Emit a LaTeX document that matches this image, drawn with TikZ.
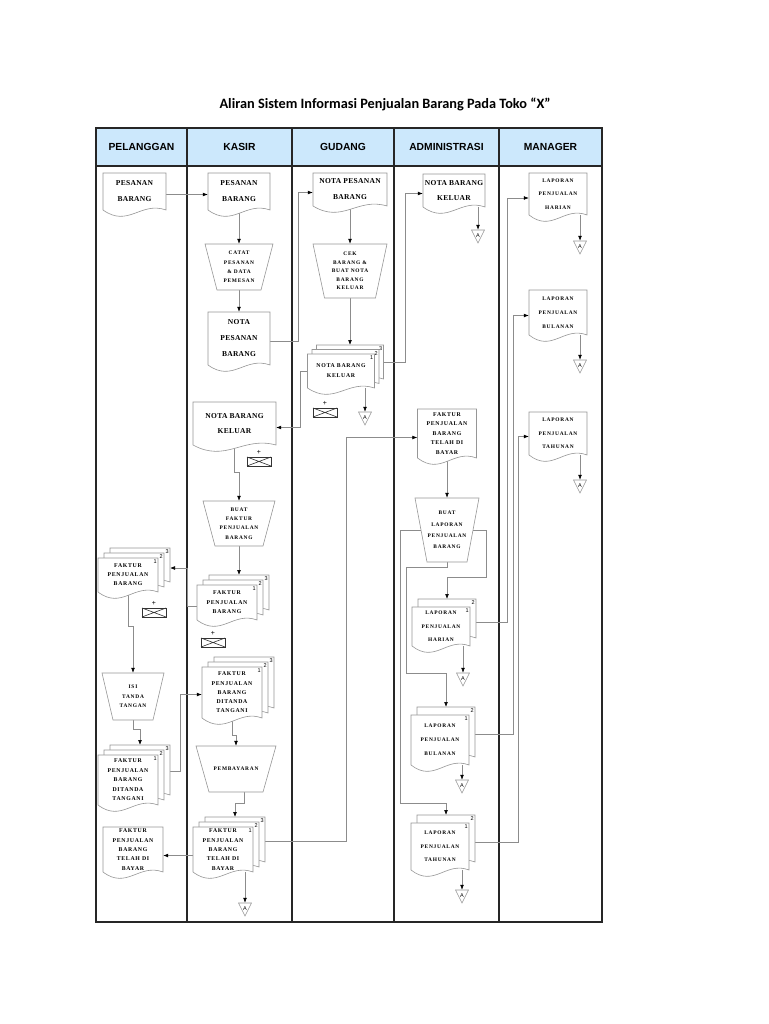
\documentclass[tikz,border=0pt]{standalone}
\usepackage{fontspec}
\setmainfont{Liberation Serif}
\newfontfamily\dfa[LetterSpace=4]{Liberation Serif}
\newfontfamily\dfb[LetterSpace=12]{Liberation Serif}
\newfontfamily\dfc[LetterSpace=14]{Liberation Serif}
\newfontfamily\hdfont{Liberation Sans}
\newfontfamily\ttlfont{Carlito}
\usetikzlibrary{arrows.meta,calc}
\pgfdeclarelayer{lanes}
\pgfdeclarelayer{bg}
\pgfsetlayers{lanes,bg,main}
\definecolor{hdrblue}{RGB}{204,232,252}
\definecolor{shpgray}{RGB}{150,150,150}
\definecolor{congray}{RGB}{140,140,140}
\tikzset{
  shp/.style={draw=shpgray,fill=white,line width=0.6pt},
  con/.style={draw=congray,line width=0.6pt},
  arr/.style={con,-{Latex[length=5pt,width=3.8pt,color=black,fill=black]}},
  lane/.style={draw=black!85,line width=1.2pt},
  archline/.style={draw=black!80,line width=0.6pt},
  txt/.style={inner sep=0pt,align=center,text=black},
  fbig/.style={font=\dfa\bfseries\fontsize{7.5}{#1}\selectfont},
  fmid/.style={font=\dfb\bfseries\fontsize{5.8}{#1}\selectfont},
  fsm/.style={font=\dfc\bfseries\fontsize{5.4}{#1}\selectfont},
  num/.style={inner sep=0pt,anchor=north east,font=\hdfont\fontsize{5.5}{6}\selectfont},
  hdr/.style={font=\hdfont\bfseries\fontsize{10.3}{11}\selectfont},
}
\def\wv{9}
\def\cdx{6}
\def\cdy{5}
% x1 y1 x2 y2 (y2 = end of straight sides)
\newcommand\xShape[4]{%
  \draw[shp] ({#1},{#4}) -- ({#1},{#2}) -- ({#3},{#2}) -- ({#3},{#4})
    .. controls ({(#3)-0.4*((#3)-(#1))},{(#4)-\wv}) and ({(#3)-0.6*((#3)-(#1))},{(#4)+2*\wv}) .. ({#1},{#4}) -- cycle;}
% [opts]{name}{x1}{y1}{x2}{y2}{text}
\newcommand\xDoc[7][]{%
  \xShape{#3}{#4}{#5}{#6}
  \node[txt,minimum width={(#5)-(#3)},minimum height={(#6)-(#4)},#1] (#2) at ({((#3)+(#5))/2},{((#4)+(#6))/2}) {#7};}
% [opts]{n}{name}{x1}{y1}{x2}{y2}{text}
\newcommand\xMDoc[8][]{%
  \foreach \k in {#2,...,2}{%
    \xShape{(#4)+\cdx*(\k-1)}{(#5)-\cdy*(\k-1)}{(#6)+\cdx*(\k-1)}{(#7)-\cdy*(\k-1)}
    \node[num] (#3-n\k) at ({(#6)+\cdx*(\k-1)-1},{(#5)-\cdy*(\k-1)+1.5}) {\k};
  }
  \xDoc[#1]{#3}{#4}{#5}{#6}{#7}{#8}
  \node[num] (#3-n1) at ({(#6)-1},{(#5)+1.5}) {1};
  \coordinate (#3-t) at ({((#4)+(#6))/2+\cdx*(#2-1)},{(#5)-\cdy*(#2-1)});
  \coordinate (#3-r) at ({(#6)+\cdx*(#2-1)},{((#5)+(#7))/2-\cdy*(#2-1)});}
% [opts]{name}{xc}{ytop}{ybot}{topw}{botw}{text}
\newcommand\xTrap[8][]{%
  \draw[shp] ({(#3)-(#6)/2},{#4}) -- ({(#3)+(#6)/2},{#4}) -- ({(#3)+(#7)/2},{#5}) -- ({(#3)-(#7)/2},{#5}) -- cycle;
  \node[txt,minimum width={((#6)+(#7))/2},minimum height={(#5)-(#4)},#1] (#2) at ({#3},{((#4)+(#5))/2}) {#8};}
% {name}{xc}{ytop}
\newcommand\xOff[3]{%
  \draw[shp] ({(#2)-6.5},{#3}) -- ({(#2)+6.5},{#3}) -- ({#2},{(#3)+13}) -- cycle;
  \node[txt,font=\hdfont\fontsize{5.5}{6}\selectfont,minimum width=13,minimum height=13] (#1) at ({#2},{(#3)+6.5}) {\raisebox{1.8pt}{A}};}
% {name}{xl}{yt}
\newcommand\xArch[3]{%
  \draw[archline,fill=white] ({#2},{#3}) rectangle ({(#2)+24},{(#3)+9});
  \draw[archline] ({#2},{#3}) -- ({(#2)+24},{(#3)+9}) ({#2},{(#3)+9}) -- ({(#2)+24},{#3});
  \node[txt,font=\hdfont\fontsize{7}{7}\selectfont] (#1) at ({(#2)+12},{(#3)-5}) {+};}

\begin{document}
\begin{tikzpicture}[x=1pt,y=-1pt]
\useasboundingbox (0,0) rectangle (768,1024);

\node[font=\ttlfont\bfseries\fontsize{14.3}{16}\selectfont] (title) at (385,104) {Aliran Sistem Informasi Penjualan Barang Pada Toko “X”};

\begin{pgfonlayer}{lanes}
  \fill[hdrblue] (96,128) rectangle (602,166);
  \draw[lane] (96,128) rectangle (602,922);
  \draw[lane] (96,166) -- (602,166);
  \foreach \xx in {187,292,394,499} \draw[lane] (\xx,128) -- (\xx,922);
\end{pgfonlayer}
\node[hdr] (h1) at (141.5,147) {PELANGGAN};
\node[hdr] (h2) at (239.5,147) {KASIR};
\node[hdr] (h3) at (343,147) {GUDANG};
\node[hdr] (h4) at (446.5,147) {ADMINISTRASI};
\node[hdr] (h5) at (550.5,147) {MANAGER};

% PELANGGAN
\xDoc[fbig=16]{P1}{103}{173}{166}{210}{PESANAN\\BARANG}
\xMDoc[fmid=9]{3}{P2}{98}{558}{158}{592}{FAKTUR\\PENJUALAN\\BARANG}
\xArch{PX}{142}{608}
\xTrap[fsm=9.5]{P3}{133}{673}{720}{62}{40}{ISI\\TANDA\\TANGAN}
\xMDoc[fmid=9.5]{3}{P4}{98}{755}{158}{805}{FAKTUR\\PENJUALAN\\BARANG\\DITANDA\\TANGANI}
\xDoc[fmid=9.3]{P5}{103}{827}{163}{872}{FAKTUR\\PENJUALAN\\BARANG\\TELAH DI\\BAYAR}

% KASIR
\xDoc[fbig=16]{K1}{208}{173}{270}{210}{PESANAN\\BARANG}
\xTrap[fsm=9.3]{K2}{239}{244}{290}{68}{44}{CATAT\\PESANAN\\\& DATA\\PEMESAN}
\xDoc[fbig=16]{K3}{208}{312}{270}{365}{NOTA\\PESANAN\\BARANG}
\xDoc[fbig=15]{K4}{193}{402}{276}{445}{NOTA BARANG\\KELUAR}
\xArch{KX1}{247}{457}
\xTrap[fsm=9.3]{K5}{239}{501}{546}{72}{48}{BUAT\\FAKTUR\\PENJUALAN\\BARANG}
\xMDoc[fmid=9.5]{3}{K6}{197}{585}{257}{620}{FAKTUR\\PENJUALAN\\BARANG}
\xArch{KX2}{201}{638}
\xMDoc[fmid=9.3]{3}{K7}{202}{667}{262}{718}{FAKTUR\\PENJUALAN\\BARANG\\DITANDA\\TANGANI}
\xTrap[fsm=9]{K8}{236}{746}{792}{80}{54}{PEMBAYARAN}
\xMDoc[fmid=9.3]{3}{K9}{193}{827}{253}{872}{FAKTUR\\PENJUALAN\\BARANG\\TELAH DI\\BAYAR}
\xOff{KA}{245}{903}

% GUDANG
\xDoc[fbig=16]{G1}{313}{173}{387}{206}{NOTA PESANAN\\BARANG}
\xTrap[fsm=8.5]{G2}{350}{244}{298}{74}{51}{CEK\\BARANG \&\\BUAT NOTA\\BARANG\\KELUAR}
\def\cdx{4.5}\def\cdy{4.5}
\xMDoc[fmid=10]{3}{G3}{307.5}{354}{374.5}{388}{NOTA BARANG\\KELUAR}
\xArch{GX}{313}{408}
\xOff{GA}{365}{412}

% ADMINISTRASI
\xDoc[fbig=15]{A1}{423}{174}{485}{207}{NOTA BARANG\\KELUAR}
\xOff{AA1}{478}{230}
\xDoc[fmid=9.5]{A2}{417.5}{409}{476.5}{458}{FAKTUR\\PENJUALAN\\BARANG\\TELAH DI\\BAYAR}
\xTrap[fsm=11.3]{A3}{447}{498}{562}{64}{40}{BUAT\\LAPORAN\\PENJUALAN\\BARANG}
\def\cdx{6}\def\cdy{8}
\xMDoc[fsm=13.5]{2}{A4}{412}{607}{470}{646}{LAPORAN\\PENJUALAN\\HARIAN}
\xOff{AA4}{463}{673}
\xMDoc[fsm=14]{2}{A5}{411}{715}{469}{765}{LAPORAN\\PENJUALAN\\BULANAN}
\xOff{AA5}{462}{780}
\xMDoc[fsm=13.5]{2}{A6}{411}{823}{469}{870}{LAPORAN\\PENJUALAN\\TAHUNAN}
\xOff{AA6}{462}{890}

% MANAGER
\xDoc[fsm=13.5]{M1}{529}{173}{587}{215}{LAPORAN\\PENJUALAN\\HARIAN}
\xOff{MA1}{580}{241}
\xDoc[fsm=14]{M2}{529}{290}{587}{335}{LAPORAN\\PENJUALAN\\BULANAN}
\xOff{MA2}{580}{360}
\xDoc[fsm=13.5]{M3}{529}{412}{587}{455}{LAPORAN\\PENJUALAN\\TAHUNAN}
\xOff{MA3}{580}{480}

\begin{pgfonlayer}{bg}
  \draw[arr] ($(P1.east)+(0,3)$) -- ($(K1.west)+(0,3)$);
  \draw[arr] (K1.south) -- (K2.north);
  \draw[arr] (K2.south) -- (K3.north);
  \draw[arr] ($(K3.east)+(0,3)$) -- ++(28,0) |- ($(G1.west)+(0,3)$);
  \draw[arr] (G1.south) -- (G2.north);
  \draw[arr] (G2.south) -- (G3-t);
  \draw[arr] (G3.west) -- ++(-7,0) |- ($(K4.east)+(0,4)$);
  \draw[arr] (G3-r) -- ++(22,0) |- ($(A1.west)+(0,3)$);
  \draw[arr] (GA.north |- G3.south) -- (GA.north);
  \draw[arr] (K4.south) -- ++(0,27) -| (K5.north);
  \draw[arr] (K5.south) -- (K6-t);
  \draw[arr] ($(K6.west)+(0,4)$) -- ++(-10,0) |- ($(P2-r)+(0,3)$);
  \draw[arr] (P2.south) -- ++(0,34) -| (P3.north);
  \draw[arr] (P3.south) -- ++(0,9) -| (P4-t);
  \draw[arr] ($(P4-r)+(0,1)$) -- ++(10,0) |- ($(K7.west)+(0,2)$);
  \draw[arr] (K7.south) -- ++(0,17) -| (K8.north);
  \draw[arr] ($(K8.south)+(8,0)$) -- ++(0,11) -| (K9-t);
  \draw[arr] ($(K9.west)+(0,6)$) -- ($(P5.east)+(0,6)$);
  \draw[arr] (KA.north |- K9.south) -- (KA.north);
  \draw[arr] ($(K9-r)+(0,2)$) -- ++(81,0) |- ($(A2.west)+(0,4)$);
  \draw[arr] (AA1.north |- A1.south) -- (AA1.north);
  \draw[arr] (A2.south) -- (A3.north);
  \draw[arr] (A3.east) -- ++(13,0) -- ++(0,47) -| (A4-t);
  \draw[arr] (A3.south) -- ++(0,5) -- ++(-41,0) |- ($(A5-t)+(0,-34)$) -- (A5-t);
  \draw[arr] (A3.west) -- ++(-21,0) |- ($(A6-t)+(0,-12)$) -- (A6-t);
  \draw[arr] (AA4.north |- A4.south) -- (AA4.north);
  \draw[arr] (AA5.north |- A5.south) -- (AA5.north);
  \draw[arr] (AA6.north |- A6.south) -- (AA6.north);
  \draw[arr] ($(A4-r)+(0,4)$) -- ++(31,0) |- ($(M1.west)+(0,4)$);
  \draw[arr] ($(A5-r)+(0,2)$) -- ++(38,0) |- ($(M2.west)+(0,3)$);
  \draw[arr] ($(A6-r)+(0,4)$) -- ++(43,0) |- ($(M3.west)+(0,3)$);
  \draw[arr] (MA1.north |- M1.south) -- (MA1.north);
  \draw[arr] (MA2.north |- M2.south) -- (MA2.north);
  \draw[arr] (MA3.north |- M3.south) -- (MA3.north);
\end{pgfonlayer}
\end{tikzpicture}
\end{document}
